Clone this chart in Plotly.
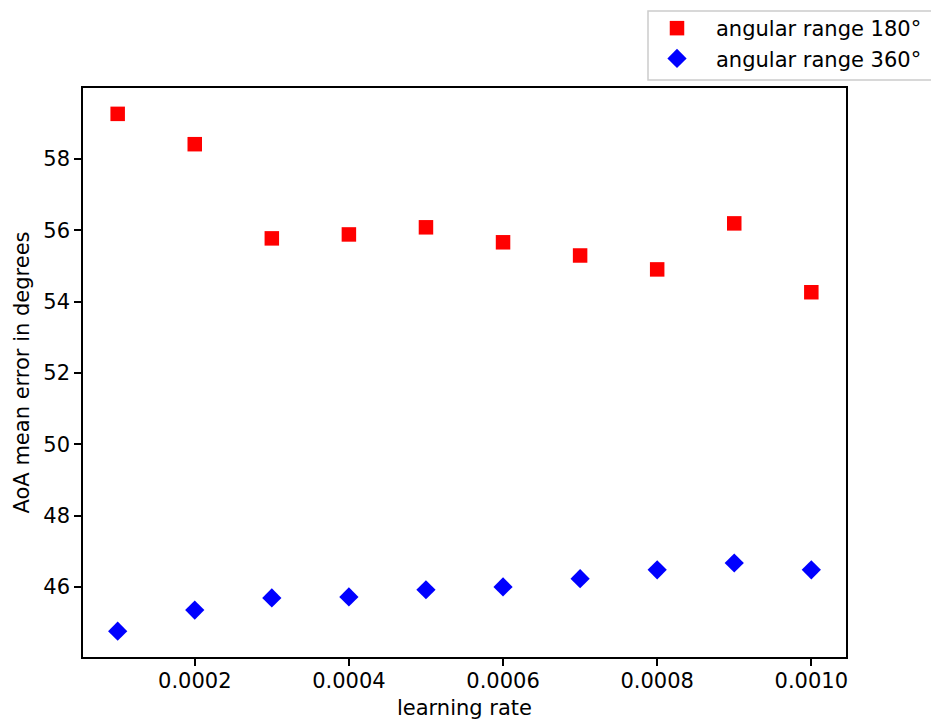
import plotly.graph_objects as go

learning_rate = [0.0001, 0.0002, 0.0003, 0.0004, 0.0005, 0.0006, 0.0007, 0.0008, 0.0009, 0.0010]
err_180 = [59.26, 58.41, 55.77, 55.88, 56.08, 55.66, 55.29, 54.90, 56.19, 54.26]
err_360 = [44.76, 45.35, 45.69, 45.72, 45.92, 46.00, 46.23, 46.48, 46.67, 46.48]
x_ticks = [0.0002, 0.0004, 0.0006, 0.0008, 0.0010]
x_ticklabels = ["0.0002", "0.0004", "0.0006", "0.0008", "0.0010"]
y_ticks = [46, 48, 50, 52, 54, 56, 58]

FONT = "DejaVu Sans"
FS = 21

fig = go.Figure()
fig.add_trace(go.Scatter(x=learning_rate, y=err_180, mode="markers", name="angular range 180°",
                         marker=dict(symbol="square", size=14.5, color="#ff0000")))
fig.add_trace(go.Scatter(x=learning_rate, y=err_360, mode="markers", name="angular range 360°",
                         marker=dict(symbol="diamond", size=14.8, color="#0000ff")))

axis_common = dict(showline=True, linecolor="black", linewidth=1.5, mirror=True,
                   ticks="outside", ticklen=7, tickwidth=1.5, tickcolor="black",
                   showgrid=False, zeroline=False,
                   tickfont=dict(family=FONT, size=FS, color="black"))

fig.update_xaxes(range=[0.000055, 0.001045], tickvals=x_ticks, ticktext=x_ticklabels,
                 ticklabelstandoff=-3,
                 title=dict(text="learning rate", font=dict(family=FONT, size=FS, color="black"), standoff=8),
                 **axis_common)
fig.update_yaxes(range=[44.035, 59.985], tickvals=y_ticks,
                 title=dict(text="AoA mean error in degrees", font=dict(family=FONT, size=FS, color="black"), standoff=8),
                 **axis_common)

fig.add_shape(type="rect", xref="paper", yref="paper",
              x0=(648 - 83) / 763, x1=(940 - 83) / 763,
              y0=1 + (88 - 80) / 569, y1=1 + (88 - 11) / 569,
              line=dict(color="#cccccc", width=1.5), fillcolor="white", layer="below")

fig.update_layout(
    width=931, height=722,
    margin=dict(l=83, r=85, t=88, b=65, autoexpand=False),
    paper_bgcolor="white", plot_bgcolor="white",
    font=dict(family=FONT, size=FS, color="black"),
    legend=dict(x=(638 - 83) / 763, y=1 + (88 - 8) / 569, xanchor="left", yanchor="top",
                bgcolor="rgba(0,0,0,0)", borderwidth=0, itemwidth=68,
                font=dict(family=FONT, size=FS, color="black"), tracegroupgap=0),
    showlegend=True,
)

fig.write_html("out.html", config={"displayModeBar": False})
with open("out.html", "r", encoding="utf-8") as f:
    html = f.read()
html = html.replace("<body>", '<body style="margin:0;padding:0;overflow:hidden">', 1)
with open("out.html", "w", encoding="utf-8") as f:
    f.write(html)
